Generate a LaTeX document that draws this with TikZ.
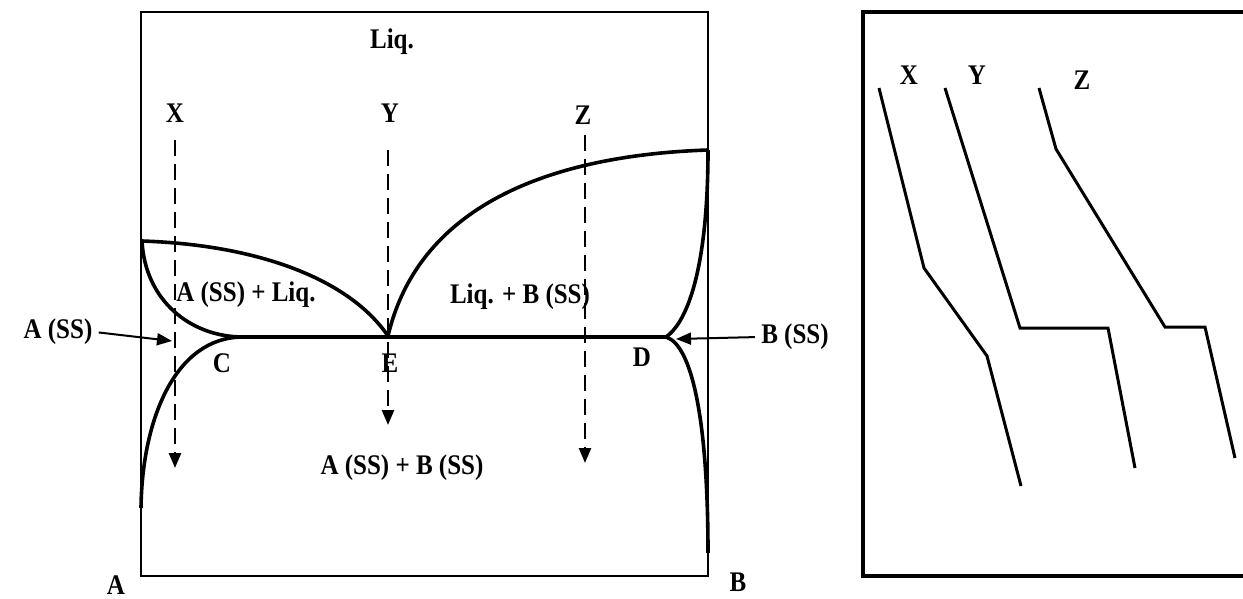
\documentclass[tikz,border=0pt]{standalone}
\usepackage{fontspec}
\setmainfont{Liberation Serif}[FakeStretch=0.88]
\usetikzlibrary{arrows.meta,positioning}

\begin{document}
\begin{tikzpicture}[x=0.5pt, y=-0.5pt,
  lbl/.style={font=\fontsize{14.2}{16}\selectfont\bfseries, inner sep=1pt},
  phase/.style={line width=1.8pt},
  cool/.style={line width=1.5pt, line join=miter},
  pointer/.style={line width=1pt, shorten <=2pt, -{Triangle[length=7.5pt,width=6pt]}},
  drop/.style={line width=1.3pt, dash pattern=on 8pt off 4pt, -{Triangle[length=7.5pt,width=6pt]}}]
\useasboundingbox (0,0) rectangle (1243,599);
\clip (0,0) rectangle (1243,599);
% Phase diagram frame
\draw[line width=1.1pt] (141,12) rectangle (708,576);
% Key points
\coordinate (topA) at (142,241);
\coordinate (C) at (243,337);
\coordinate (E) at (388,336);
\coordinate (D) at (666,337);
\coordinate (topB) at (708,150);
\coordinate (botA) at (141,508);
\coordinate (botB) at (708,553);
% Phase boundaries
\draw[phase] (topA) .. controls (260,245) and (350,280) .. (E);
\draw[phase] (topA) .. controls (145,300) and (190,337) .. (C);
\draw[phase] (C) .. controls (175,337) and (142,420) .. (botA);
\draw[phase] (E) .. controls (420,200) and (560,155) .. (topB);
\draw[phase] (D) .. controls (690,320) and (708,260) .. (topB);
\draw[phase] (D) .. controls (692,345) and (708,420) .. (botB);
\draw[line width=2pt] (C) -- (D);
% Region and point labels
\node[lbl] (liq) at (392,42) {Liq.};
\node[lbl] (aliq) at (246,295) {A (SS) + Liq.};
\node[lbl] (liqb) at (520,297) {Liq. + B (SS)};
\node[lbl] (ab) at (402,468) {A (SS) + B (SS)};
\node[lbl] (labC) at (222,363) {C};
\node[lbl] (labE) at (390,363) {E};
\node[lbl] (labD) at (642,357) {D};
\node[lbl] (labA) at (116,585) {A};
\node[lbl] (labB) at (738,582) {B};
% Solid solution pointers
\node[lbl] (ass) at (58,332) {A (SS)};
\node[lbl] (bss) at (795,337) {B (SS)};
\coordinate (tipA) at (172,341);
\coordinate (tipB) at (676,339);
\draw[pointer] (ass.east) -- (tipA);
\draw[pointer] (bss.west) -- (tipB);
% Cooling paths
\node[lbl] (X) at (175,113) {X};
\node[lbl] (Y) at (390,113) {Y};
\node[lbl] (Z) at (583,115) {Z};
\coordinate (xs) at (175,140); \coordinate (xe) at (175,468);
\coordinate (ys) at (388,150); \coordinate (ye) at (388,425);
\coordinate (zs) at (585,135); \coordinate (ze) at (585,463);
\draw[drop] (xs) -- (xe);
\draw[drop] (ys) -- (ye);
\draw[drop] (zs) -- (ze);
% Cooling curves panel
\draw[line width=2pt] (863,12) rectangle (1270,576);
\node[lbl] (cX) at (909,75) {X};
\node[lbl] (cY) at (977,75) {Y};
\node[lbl] (cZ) at (1082,80) {Z};
\draw[cool] (879,88) -- (924,268) -- (987,356) -- (1021,486);
\draw[cool] (945,88) -- (1020,328) -- (1108,328) -- (1135,468);
\draw[cool] (1039,88) -- (1056,149) -- (1165,327) -- (1205,327) -- (1235,458);
\end{tikzpicture}
\end{document}
